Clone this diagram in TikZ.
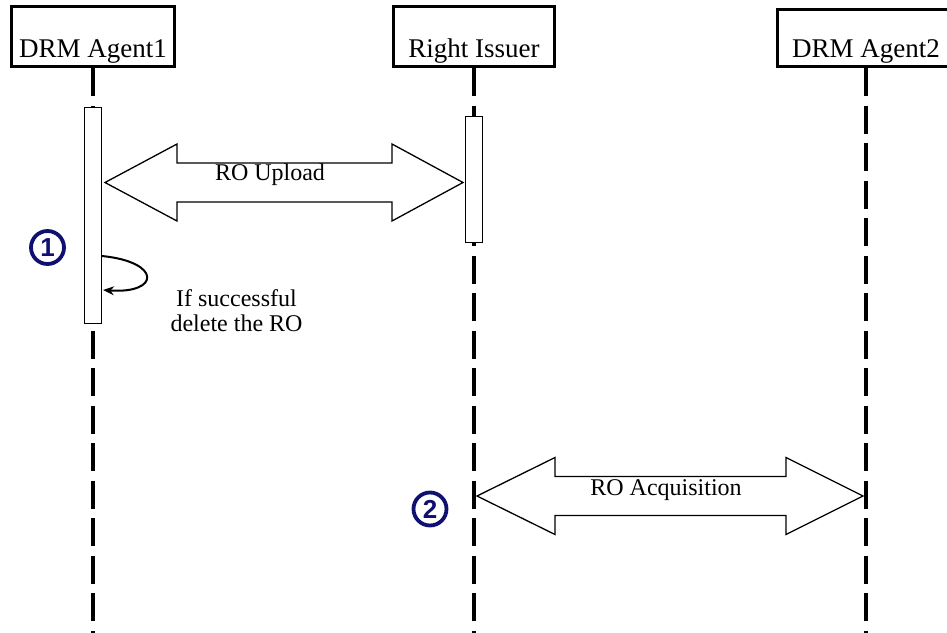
\documentclass[tikz,border=0pt]{standalone}
\usepackage{fontspec}
\setmainfont{Liberation Serif}
\setsansfont{Liberation Sans}
\usetikzlibrary{arrows.meta,calc}
\definecolor{stepnavy}{RGB}{16,16,112}

\begin{document}
\begin{tikzpicture}[
        x = 1pt, y = -1pt,
ActorBox/.style={draw, line width=3pt, inner xsep=0pt, inner ysep=0pt,
                 text depth=9.5pt, anchor=base,
                 font=\fontsize{27}{30}\selectfont},
  ActBar/.style={draw, fill=white, line width=1pt, inner sep=0pt,
                 minimum width=17pt},
LifeLine/.style={line width=4pt, dash pattern=on 28pt off 9.5pt},
BlockArrow/.style={draw, fill=white, line width=1.3pt, line join=miter},
 MsgText/.style={font=\fontsize{24}{25}\selectfont},
StepMark/.style={circle, draw=stepnavy, line width=3.8pt, minimum size=33pt,
                 inner sep=0pt, text=stepnavy,
                 font=\sffamily\bfseries\fontsize{26}{26}\selectfont},
  ]
\useasboundingbox (0,0) rectangle (947,632);
\coordinate (bottom) at (0,640);
\node [ActorBox, minimum width=163pt, text height=50.5pt] (agent1) at (93,57) {DRM Agent1};
  \node [ActorBox, minimum width=161pt, text height=50.5pt] (issuer) at (474,57) {Right Issuer};
  \node [ActorBox, minimum width=178pt, text height=47.5pt] (agent2) at (866,57) {DRM Agent2};
% life lines
  \draw [LifeLine] (agent1.south) -- (agent1.south |- bottom);
  \draw [LifeLine] (issuer.south) -- (issuer.south |- bottom);
  \draw [LifeLine] (agent2.south) -- (agent2.south |- bottom);
\node [ActBar, minimum height=216pt] (act1) at (93,215.5) {};
  \node [ActBar, minimum height=126pt] (act2) at (474,179.5) {};
% RO upload
  \coordinate (upL) at ($(act1.east |- 0,182.5)+(3,0)$);
  \coordinate (upR) at ($(act2.west |- 0,182.5)+(-2,0)$);
  \draw [BlockArrow] (upL) -- ++(72,-38.5) -- ++(0,19) -- ($(upR)+(-71,-19.5)$)
    -- ++(0,-19) -- (upR) -- ++(-71,38.5) -- ++(0,-19) -- ($(upL)+(72,19.5)$)
    -- ++(0,19) -- cycle;
  \node [MsgText, anchor=base] (upload) at (270,180) {RO Upload};
% RO acquisition
  \coordinate (acqL) at ($(issuer.south |- 0,496)+(3,0)$);
  \coordinate (acqR) at ($(agent2.south |- 0,496)+(-3,0)$);
  \draw [BlockArrow] (acqL) -- ++(78,-38.5) -- ++(0,19) -- ($(acqR)+(-77,-19.5)$)
    -- ++(0,-19) -- (acqR) -- ++(-77,38.5) -- ++(0,-19) -- ($(acqL)+(78,19.5)$)
    -- ++(0,19) -- cycle;
  \node [MsgText, anchor=base] (acquire) at (666,495) {RO Acquisition};
% delete the RO
  \coordinate (selfA) at (act1.east |- 0,256);
  \coordinate (selfB) at ($(act1.east |- 0,290)+(1,0)$);
  \draw [line width=2pt, -{Stealth[length=11pt, width=9pt]}]
    (selfA) .. controls (162,262) and (160,294) .. (selfB);
  \node [MsgText, align=center] (delete) at (236.5,310.3) {If successful\\delete the RO};
\node [StepMark] (step1) at (47.5,247.5) {1};
  \node [StepMark] (step2) at (430,509) {2};
\end{tikzpicture}
\end{document}
